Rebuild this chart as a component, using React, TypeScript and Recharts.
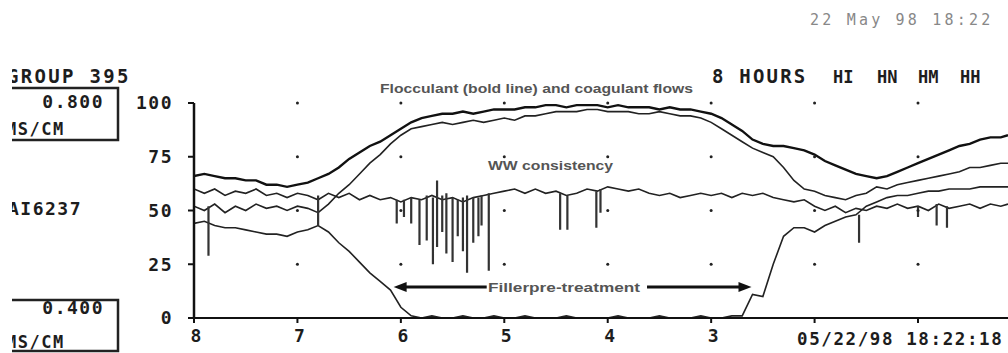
import { LineChart, Line, XAxis, YAxis, ReferenceDot, ReferenceLine } from 'recharts';

// hours remaining on the 8 hour trend screen (read right to left)
const sampleHours = [
  8.0, 7.9, 7.8, 7.7, 7.6, 7.5, 7.4, 7.3, 7.2, 7.1,
  7.0, 6.9, 6.8, 6.7, 6.6, 6.5, 6.4, 6.3, 6.2, 6.1,
  6.0, 5.9, 5.8, 5.7, 5.6, 5.5, 5.4, 5.3, 5.2, 5.1,
  5.0, 4.9, 4.8, 4.7, 4.6, 4.5, 4.4, 4.3, 4.2, 4.1,
  4.0, 3.9, 3.8, 3.7, 3.6, 3.5, 3.4, 3.3, 3.2, 3.1,
  3.0, 2.9, 2.8, 2.7, 2.6, 2.5, 2.4, 2.3, 2.2, 2.1,
  2.0, 1.9, 1.8, 1.7, 1.6, 1.5, 1.4, 1.3, 1.2, 1.1,
  1.0, 0.9, 0.8, 0.7, 0.6, 0.5, 0.4, 0.3, 0.2, 0.13,
];

const flocculant = [
  66, 67, 66, 65, 65, 64, 64, 62, 62, 61,
  62, 63, 65, 67, 70, 74, 77, 80, 82, 85,
  88, 91, 93, 94, 95, 95, 96, 95, 96, 97,
  97, 97, 98, 98, 99, 99, 98, 99, 99, 99,
  98, 99, 98, 98, 98, 97, 98, 97, 97, 96,
  95, 93, 90, 87, 83, 81, 80, 80, 79, 78,
  76, 73, 71, 69, 67, 66, 65, 66, 68, 70,
  72, 74, 76, 78, 80, 81, 83, 84, 84, 85,
];

const coagulant = [
  52, 50, 53, 49, 52, 50, 53, 51, 52, 50,
  52, 51, 49, 53, 58, 62, 67, 72, 76, 81,
  85, 88, 89, 90, 91, 90, 91, 92, 91, 92,
  93, 92, 94, 94, 95, 96, 96, 96, 97, 97,
  96, 96, 96, 95, 95, 96, 95, 94, 94, 93,
  91, 88, 85, 82, 79, 77, 75, 70, 64, 60,
  59, 57, 56, 55, 57, 58, 61, 60, 62, 63,
  64, 65, 66, 67, 68, 70, 70, 71, 72, 72,
];

const wwConsistency = [
  60, 58, 60, 57, 59, 58, 60, 57, 58, 56,
  58, 57, 55, 58, 56, 58, 55, 57, 55, 56,
  54, 56, 55, 57, 55, 56, 54, 56, 57, 58,
  59, 60, 58, 60, 58, 59, 57, 58, 60, 59,
  61, 60, 59, 60, 58, 57, 58, 56, 57, 58,
  57, 58, 56, 58, 57, 58, 56, 55, 54, 55,
  52, 50, 52, 49, 51, 50, 52, 51, 53, 51,
  52, 50, 53, 51, 52, 53, 51, 53, 52, 53,
];

const fillerPretreatment = [
  44, 45, 43, 42, 42, 41, 40, 39, 39, 38,
  40, 41, 43, 40, 35, 31, 26, 21, 17, 13,
  5, 1, 0, 1, 0, 0, 1, 0, 0, 1,
  0, 0, 1, 0, 0, 0, 1, 0, 0, 0,
  0, 1, 0, 0, 0, 1, 0, 0, 0, 1,
  0, 0, 1, 1, 11, 10, 25, 38, 42, 42,
  40, 43, 45, 47, 48, 52, 54, 56, 57, 57,
  58, 59, 59, 60, 60, 60, 61, 61, 61, 61,
];

// short drop-outs on the traces
const spikeHours = [7.86, 6.8, 6.04, 5.97, 5.9, 5.82, 5.75, 5.69, 5.65, 5.6, 5.56, 5.5, 5.45, 5.4, 5.36, 5.3, 5.25, 5.22, 5.15, 4.46, 4.39, 4.11, 4.07, 1.57, 1.0, 0.82, 0.72];
const spikeTops = [52, 57, 55, 55, 56, 55, 57, 56, 64, 57, 58, 56, 55, 56, 57, 56, 56, 57, 58, 58, 57, 59, 60, 48, 52, 53, 52];
const spikeBottoms = [29, 43, 44, 47, 44, 34, 36, 25, 33, 40, 30, 26, 38, 31, 21, 35, 38, 43, 22, 41, 41, 42, 49, 35, 47, 43, 42];

const hourTicks = [8, 7, 6, 5, 4, 3, 2, 1];
const labelledHours = [8, 7, 6, 5, 4, 3];
const levelTicks = [0, 25, 50, 75, 100];
const gridLevels = [25, 50, 75, 100];
const gridHours = [7, 6, 5, 4, 3, 2, 1];

const toSeries = (values: number[]) => sampleHours.map((h, i) => ({ h, v: values[i] }));

const spikeData = spikeHours.flatMap((h, i) => [
  { h, v: spikeTops[i] },
  { h, v: spikeBottoms[i] },
  { h, v: null },
]);

const MONO = "'DejaVu Sans Mono', monospace";
const SANS = "'Liberation Sans', Arial, sans-serif";
const INK = '#1d1d1d';

function HourTick({ x, y, payload }: any) {
  if (!labelledHours.includes(payload.value)) return <g />;
  return (
    <text x={x + 2} y={y} dy={17} textAnchor='middle' fontFamily={MONO} fontWeight='bold' fontSize={18} fill={INK}>
      {payload.value}
    </text>
  );
}

function Arrow(props: any) {
  const { x1, y1, x2, y2 } = props;
  const dir = x2 > x1 ? 1 : -1;
  return (
    <g>
      <line x1={x1} y1={y1} x2={x2 - dir * 10} y2={y2} stroke='#111' strokeWidth={3} />
      <polygon points={`${x2},${y2} ${x2 - dir * 13},${y2 - 5} ${x2 - dir * 13},${y2 + 5}`} fill='#111' />
    </g>
  );
}

export default function App() {
  const crt = { fontFamily: MONO, fontWeight: 'bold' as const, fill: INK };
  return (
    <div style={{ position: 'absolute', left: 0, top: 0, width: 1008, height: 353, background: '#fff' }}>
      <LineChart width={1008} height={353} margin={{ top: 103, right: 0, left: 134, bottom: 0 }}>
        <XAxis
          type='number'
          dataKey='h'
          domain={[0.13, 8]}
          reversed
          allowDataOverflow
          ticks={hourTicks}
          tick={<HourTick />}
          height={35}
          tickSize={5}
          axisLine={{ stroke: '#111', strokeWidth: 2 }}
          tickLine={{ stroke: '#111', strokeWidth: 2 }}
        />
        <YAxis
          type='number'
          domain={[0, 100]}
          ticks={levelTicks}
          width={60}
          tickSize={6}
          tickMargin={15}
          axisLine={{ stroke: '#111', strokeWidth: 2.5 }}
          tickLine={{ stroke: '#111', strokeWidth: 2 }}
          tick={{ fontFamily: MONO, fontWeight: 'bold', fontSize: 18, fill: INK, letterSpacing: 1.5 }}
        />
        {gridHours.flatMap((h) =>
          gridLevels.map((lv) => (
            <ReferenceDot key={`${h}-${lv}`} x={h} y={lv} r={1.5} fill='#222' stroke='none' />
          ))
        )}
        <Line data={toSeries(wwConsistency)} dataKey='v' stroke='#222' strokeWidth={1.6} dot={false} isAnimationActive={false} />
        <Line data={toSeries(fillerPretreatment)} dataKey='v' stroke='#222' strokeWidth={1.6} dot={false} isAnimationActive={false} />
        <Line data={toSeries(coagulant)} dataKey='v' stroke='#222' strokeWidth={1.6} dot={false} isAnimationActive={false} />
        <Line data={toSeries(flocculant)} dataKey='v' stroke='#111' strokeWidth={2.4} dot={false} isAnimationActive={false} />
        <Line data={spikeData} dataKey='v' stroke='#333' strokeWidth={2.2} dot={false} connectNulls={false} isAnimationActive={false} />
        <ReferenceLine segment={[{ x: 5.17, y: 14.4 }, { x: 6.07, y: 14.4 }]} shape={Arrow} />
        <ReferenceLine segment={[{ x: 3.62, y: 14.4 }, { x: 2.61, y: 14.4 }]} shape={Arrow} />
      </LineChart>

      <svg width={1008} height={353} style={{ position: 'absolute', left: 0, top: 0, pointerEvents: 'none' }}>
        <text x={810} y={25} fontFamily={MONO} fontSize={15} letterSpacing={3.2} fill='#888'>22 May 98 18:22</text>
        <text x={7} y={83} fontSize={19} letterSpacing={2.3} {...crt}>GROUP 395</text>
        <polyline points='0,88 118,88 118,140 0,140' fill='none' stroke='#222' strokeWidth={2.5} />
        <text x={104} y={108} textAnchor='end' fontSize={18} letterSpacing={1.5} {...crt}>0.800</text>
        <text x={6} y={135} fontSize={17} letterSpacing={1.5} {...crt}>MS/CM</text>
        <text x={8} y={215} fontSize={18} letterSpacing={1.5} {...crt}>AI6237</text>
        <polyline points='0,300 118,300 118,351 0,351' fill='none' stroke='#222' strokeWidth={2.5} />
        <text x={104} y={314} textAnchor='end' fontSize={18} letterSpacing={1.5} {...crt}>0.400</text>
        <text x={6} y={348} fontSize={17} letterSpacing={1.5} {...crt}>MS/CM</text>
        <text x={712} y={83} fontSize={19} letterSpacing={2.2} {...crt}>8 HOURS</text>
        <text x={833} y={83} fontSize={17} {...crt}>HI</text>
        <text x={877} y={83} fontSize={17} {...crt}>HN</text>
        <text x={918} y={83} fontSize={17} {...crt}>HM</text>
        <text x={960} y={83} fontSize={17} {...crt}>HH</text>
        <text x={797} y={345} fontSize={17.5} letterSpacing={1.6} {...crt}>05/22/98 18:22:18</text>
        <text x={380} y={93} fontFamily={SANS} fontSize={12.5} fontWeight='bold' fill='#555' textLength={313} lengthAdjust='spacingAndGlyphs'>
          Flocculant (bold line) and coagulant flows
        </text>
        <text x={488} y={170} fontFamily={SANS} fontSize={12.5} fontWeight='bold' fill='#555' textLength={125} lengthAdjust='spacingAndGlyphs'>
          WW consistency
        </text>
        <text x={488} y={292} fontFamily={SANS} fontSize={12.5} fontWeight='bold' fill='#555' textLength={152} lengthAdjust='spacingAndGlyphs'>
          Fillerpre-treatment
        </text>
        <rect x={0} y={0} width={12} height={353} fill='#fff' />
      </svg>
    </div>
  );
}
